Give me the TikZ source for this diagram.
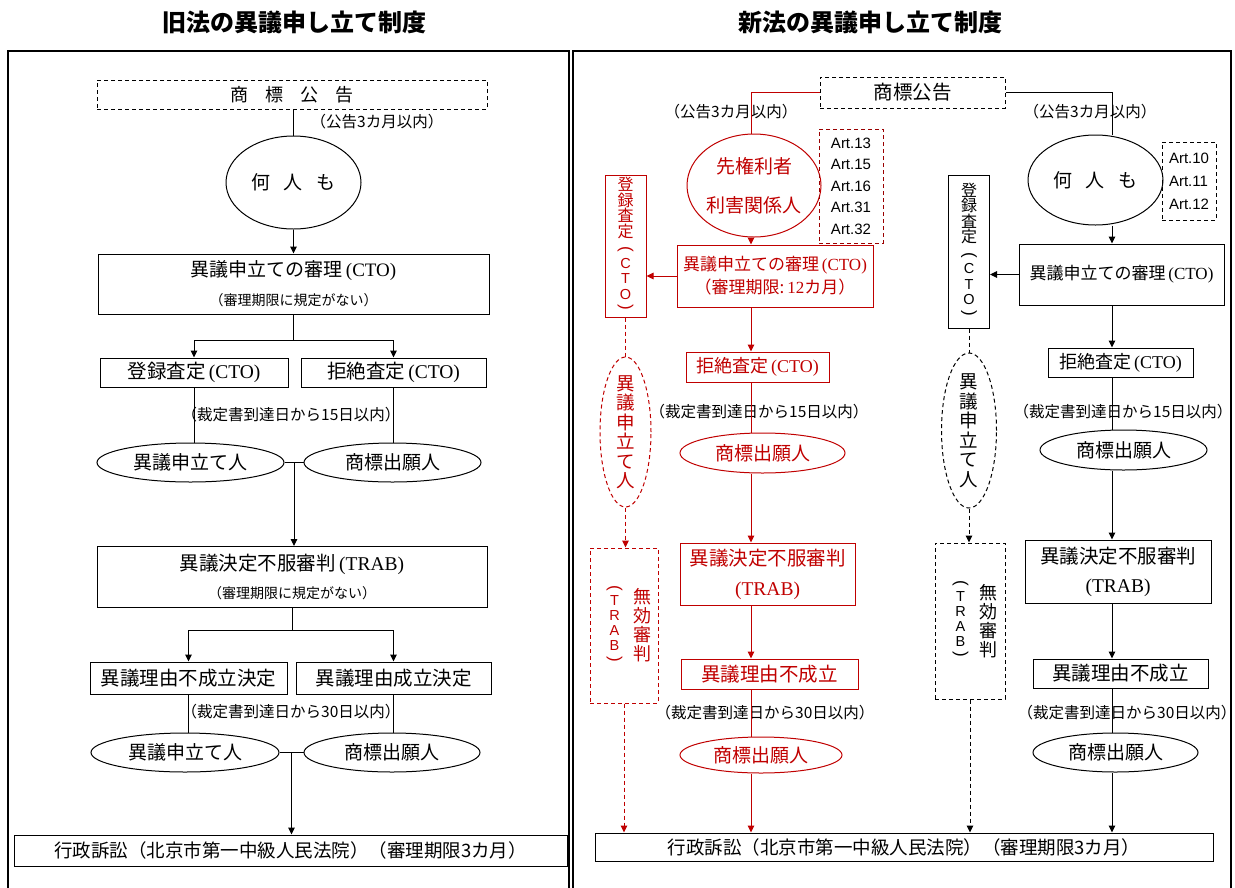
\documentclass[tikz,border=0pt]{standalone}
\usepackage{fontspec}
\setmainfont{Noto Sans CJK JP}
\newfontfamily\lat{Liberation Serif}
\newfontfamily\ars{Liberation Sans}
\usetikzlibrary{shapes.geometric,arrows.meta}
\definecolor{rd}{RGB}{192,0,0}
\tikzset{gp/.style={draw=none,fill=none,shape=rectangle,minimum width=0pt,minimum height=0pt,inner sep=0pt,outer sep=0pt,rotate=-90,anchor=center,solid}}
\newcommand\fs[1]{\fontsize{#1}{#1}\selectfont}
\newcommand\vcol[2]{\vbox{\baselineskip=#1\lineskiplimit=-100pt\lineskip=0pt\halign{\hfil##\hfil\cr#2\crcr}}}
\newcommand\vcoll[2]{\vbox{\baselineskip=#1\lineskiplimit=-100pt\lineskip=0pt\halign{##\hfil\cr#2\crcr}}}
\newcommand\zvc[1]{\vbox to 0pt{\vss\hbox{#1}\vss}}
\newcommand\ltr[1]{{\ars\fs{14.5}#1}}
\newcommand\vpl{\tikz[baseline={([yshift=-3pt]vp.center)}]\node[gp] (vp) {\ars\fs{17}(};}
\newcommand\vpr{\tikz[baseline={([yshift=-7pt]vp.center)}]\node[gp] (vp) {\ars\fs{17})};}
\newcommand\cto{\,{\lat (CTO)}}
\newcommand\trab{\,{\lat (TRAB)}}
\newcommand\mukou{\kern10pt\zvc{\vcol{15pt}{\vpl\cr\ltr{T}\cr\ltr{R}\cr\ltr{A}\cr\ltr{B}\cr\vpr}}\hspace{11pt}\zvc{\vcol{19pt}{\fs{18}無\cr\fs{18}効\cr\fs{18}審\cr\fs{18}判}}}
\newcommand\torok{\vcol{15.5pt}{登\cr 録\cr 査\cr 定\cr\vpl\cr\ltr{C}\cr\ltr{T}\cr\ltr{O}\cr\vpr}}
\newcommand\igi{\vcol{19.5pt}{異\cr 議\cr 申\cr 立\cr て\cr 人}}
\begin{document}
\begin{tikzpicture}[x=1pt,y=-1pt,
  ln/.style={line width=1pt},
  arr/.style={line width=1pt,-{Triangle[length=7pt,width=6.5pt]}},
  bx/.style={draw,line width=1pt,rectangle,inner sep=0pt,font=\fs{19}},
  el/.style={draw,line width=1pt,ellipse,inner sep=0pt,font=\fs{19}},
  dsh/.style={dash pattern=on 4pt off 3pt},
  rc/.style={draw=rd,text=rd},
  lbl/.style={inner sep=0pt,font=\fs{15.5}},
  ttl/.style={inner sep=0pt,font=\fs{24}\bfseries}]
\useasboundingbox (0,0) rectangle (1235,887);
\clip (0,0) rectangle (1235,887);
% titles
\node[ttl] (t1) at (294,22) {旧法の異議申し立て制度};
\node[ttl] (t2) at (870,22) {新法の異議申し立て制度};
% frames
\draw[line width=1.2pt] (8,892) -- (8,51) -- (569,51) -- (569,892);
\draw[line width=1.2pt] (573,892) -- (573,51) -- (1231,51) -- (1231,892);
% ---------- left panel ----------
\node[bx,dsh,minimum width=390pt,minimum height=29pt,font=\fs{18}] (Lk) at (292,94.5) {商\hspace{17pt}標\hspace{17pt}公\hspace{17pt}告};
\node[lbl] (Lkl) at (377,122) {（公告3カ月以内）};
\node[el,minimum width=135pt,minimum height=93pt] (Ln) at (293.5,182.5) {何\hspace{14pt}人\hspace{14pt}も};
\node[bx,minimum width=391pt,minimum height=60pt] (Lb1) at (293.5,284) {\zvc{\vcol{29pt}{\fs{19}異議申立ての審理\cto\cr\fs{14}（審理期限に規定がない）}}};
\node[bx,minimum width=188pt,minimum height=29pt,font=\fs{19.5}] (Lt) at (194,372.5) {登録査定\cto};
\node[bx,minimum width=185pt,minimum height=29pt,font=\fs{19.5}] (Lr) at (393.5,372.5) {拒絶査定\cto};
\node[lbl] (Ll15) at (291,415) {（裁定書到達日から15日以内）};
\node[el,minimum width=187pt,minimum height=39pt] (Le1) at (190.5,462.5) {異議申立て人};
\node[el,minimum width=177pt,minimum height=39pt] (Le2) at (392.5,462.5) {商標出願人};
\node[bx,minimum width=390pt,minimum height=61pt] (Lb2) at (292,577) {\zvc{\vcol{28pt}{\fs{19.5}異議決定不服審判\trab\cr\fs{14}（審理期限に規定がない）}}};
\node[bx,minimum width=197pt,minimum height=32pt,font=\fs{19.5}] (Lf) at (188.5,678) {異議理由不成立決定};
\node[bx,minimum width=195pt,minimum height=32pt,font=\fs{19.5}] (Ls) at (393.5,678) {異議理由成立決定};
\node[lbl] (Ll30) at (291,712) {（裁定書到達日から30日以内）};
\node[el,minimum width=188pt,minimum height=39pt] (Le3) at (185,752.5) {異議申立て人};
\node[el,minimum width=176pt,minimum height=39pt] (Le4) at (392,752.5) {商標出願人};
\node[bx,minimum width=553pt,minimum height=31pt,font=\fs{18.5}] (Lg) at (290.5,850.5) {行政訴訟（北京市第一中級人民法院）（審理期限3カ月）};
% left connectors
\draw[ln] (Ln.north |- Lk.south) -- (Ln.north);
\draw[arr] (Ln.south) -- (Ln.south |- Lb1.north);
\draw[ln] (Lb1.south) -- ++(0,26) coordinate (Lj1);
\draw[arr] (Lj1) -| (Lt.north);
\draw[arr] (Lj1) -| (Lr.north);
\draw[ln] (Lt.south) -- (Lt.south |- Le1.north);
\draw[ln] (Lr.south) -- (Lr.south |- Le2.north);
\draw[ln] (Le1.east) -- (Le2.west) coordinate[pos=0.5] (Lm1);
\draw[arr] (Lm1) -- (Lm1 |- Lb2.north);
\draw[ln] (Lb2.south) -- ++(0,22) coordinate (Lj2);
\draw[arr] (Lj2) -| (Lf.north);
\draw[arr] (Lj2) -| (Ls.north);
\draw[ln] (Lf.south) -- (Lf.south |- Le3.north);
\draw[ln] (Ls.south) -- (Ls.south |- Le4.north);
\draw[ln] (Le3.east) -- (Le4.west) coordinate[pos=0.5] (Lm2);
\draw[arr] (Lm2) -- (Lm2 |- Lg.north);
% ---------- right panel ----------
\coordinate (ax1) at (751,0);
\coordinate (ax2) at (1112,0);
\node[bx,dsh,minimum width=185pt,minimum height=31pt,font=\fs{19.5}] (Rk) at (912.5,92.5) {商標公告};
\node[lbl] (RlL) at (731,112) {（公告3カ月以内）};
\node[lbl] (RlR) at (1090,112) {（公告3カ月以内）};
% red chain
\node[el,rc,minimum width=134pt,minimum height=103pt,inner xsep=-2pt] (Rsen) at (754,185.5) {\zvc{\vcol{39pt}{先権利者\cr 利害関係人}}};
\node[draw=rd!80!black,dsh,line width=1pt,inner sep=0pt,minimum width=64pt,minimum height=114pt,font=\ars\fs{15}] (Ra1) at (851,186) {\zvc{\vcoll{21.5pt}{Art.13\cr Art.15\cr Art.16\cr Art.31\cr Art.32}}};
\node[bx,rc,minimum width=196pt,minimum height=62pt,font=\fs{17}] (Rshin) at (775,276) {\zvc{\vcol{23pt}{異議申立ての審理\cto\cr （審理期限:\,{\lat 12}カ月）}}};
\node[bx,rc,minimum width=41pt,minimum height=142pt,font=\fs{16}] (Rt) at (625.5,246) {\zvc{\torok}};
\node[el,rc,dsh,minimum width=51pt,minimum height=150pt,font=\fs{18.5}] (Rie) at (625.5,432) {\zvc{\igi}};
\node[bx,rc,dsh,minimum width=68pt,minimum height=155pt,font=\fs{16}] (Rmu) at (624,625.5) {\mukou};
\node[bx,rc,minimum width=143pt,minimum height=30pt,font=\fs{18}] (Rkyo) at (757.5,367) {拒絶査定\cto};
\node[lbl] (Rl15) at (759,412) {（裁定書到達日から15日以内）};
\node[el,rc,minimum width=165pt,minimum height=40pt] (Rsh1) at (762.5,453) {商標出願人};
\node[bx,rc,minimum width=175pt,minimum height=62pt,font=\fs{19.5}] (Rtr) at (767.5,574) {\zvc{\vcol{30pt}{異議決定不服審判\cr {\lat (TRAB)}}}};
\node[bx,rc,minimum width=177pt,minimum height=30pt,font=\fs{19.5}] (Rfu) at (769.5,674) {異議理由不成立};
\node[lbl] (Rl30) at (765,713) {（裁定書到達日から30日以内）};
\node[el,rc,minimum width=162pt,minimum height=36pt] (Rsh2) at (761,755) {商標出願人};
% black chain
\node[draw,dsh,line width=1pt,inner sep=0pt,minimum width=54pt,minimum height=78pt,font=\ars\fs{15}] (Ra2) at (1189,181) {\zvc{\vcoll{23pt}{Art.10\cr Art.11\cr Art.12}}};
\node[el,minimum width=135pt,minimum height=90pt] (Rn) at (1095.5,180) {何\hspace{14pt}人\hspace{14pt}も};
\node[bx,minimum width=205pt,minimum height=61pt,font=\fs{17}] (Rshin2) at (1121.5,274.5) {異議申立ての審理\cto};
\node[bx,minimum width=41pt,minimum height=153pt,font=\fs{16}] (Rt2) at (969,251.5) {\zvc{\torok}};
\node[el,dsh,minimum width=55pt,minimum height=155pt,font=\fs{18.5}] (Rie2) at (969,430.5) {\zvc{\igi}};
\node[bx,dsh,minimum width=70pt,minimum height=156pt,font=\fs{16}] (Rmu2) at (970,621) {\mukou};
\node[bx,minimum width=145pt,minimum height=29pt,font=\fs{18}] (Rkyo2) at (1120.5,362.5) {拒絶査定\cto};
\node[lbl] (Rl15b) at (1123,412) {（裁定書到達日から15日以内）};
\node[el,minimum width=167pt,minimum height=40pt] (Rsh3) at (1123.5,450) {商標出願人};
\node[bx,minimum width=186pt,minimum height=63pt,font=\fs{19.5}] (Rtr2) at (1118,571.5) {\zvc{\vcol{29pt}{異議決定不服審判\cr {\lat (TRAB)}}}};
\node[bx,minimum width=175pt,minimum height=29pt,font=\fs{19.5}] (Rfu2) at (1120.5,673.5) {異議理由不成立};
\node[lbl] (Rl30b) at (1127,713) {（裁定書到達日から30日以内）};
\node[el,minimum width=165pt,minimum height=39pt] (Rsh4) at (1115.5,752.5) {商標出願人};
\node[bx,minimum width=618pt,minimum height=28pt,font=\fs{18.5}] (Rg) at (904,847) {行政訴訟（北京市第一中級人民法院）（審理期限3カ月）};
% red connectors
\draw[ln,rd] (Rk.west) -| (ax1 |- Rsen.north);
\draw[arr,rd] (ax1 |- Rsen.south) -- (ax1 |- Rshin.north);
\draw[arr,rd] (Rshin.west) -- (Rshin.west -| Rt.east);
\draw[arr,rd] (ax1 |- Rshin.south) -- (ax1 |- Rkyo.north);
\draw[ln,rd] (ax1 |- Rkyo.south) -- (ax1 |- Rsh1.north);
\draw[arr,rd] (ax1 |- Rsh1.south) -- (ax1 |- Rtr.north);
\draw[arr,rd] (ax1 |- Rtr.south) -- (ax1 |- Rfu.north);
\draw[ln,rd] (ax1 |- Rfu.south) -- (ax1 |- Rsh2.north);
\draw[arr,rd] (ax1 |- Rsh2.south) -- (ax1 |- Rg.north);
\draw[ln,rd,dsh] (Rt.south) -- (Rt.south |- Rie.north);
\draw[arr,rd,dsh] (Rie.south) -- (Rie.south |- Rmu.north);
\draw[arr,rd,dsh] (Rmu.south) -- (Rmu.south |- Rg.north);
% black connectors
\draw[ln] (Rk.east) -| (ax2 |- Rn.north);
\draw[arr] (ax2 |- Rn.south) -- (ax2 |- Rshin2.north);
\draw[arr] (Rshin2.west) -- (Rshin2.west -| Rt2.east);
\draw[ln,dsh] (Rt2.south) -- (Rt2.south |- Rie2.north);
\draw[arr,dsh] (Rie2.south) -- (Rie2.south |- Rmu2.north);
\draw[arr,dsh] (Rmu2.south) -- (Rmu2.south |- Rg.north);
\draw[arr] (ax2 |- Rshin2.south) -- (ax2 |- Rkyo2.north);
\draw[ln] (ax2 |- Rkyo2.south) -- (ax2 |- Rsh3.north);
\draw[arr] (ax2 |- Rsh3.south) -- (ax2 |- Rtr2.north);
\draw[arr] (ax2 |- Rtr2.south) -- (ax2 |- Rfu2.north);
\draw[ln] (ax2 |- Rfu2.south) -- (ax2 |- Rsh4.north);
\draw[arr] (ax2 |- Rsh4.south) -- (ax2 |- Rg.north);
\end{tikzpicture}
\end{document}
